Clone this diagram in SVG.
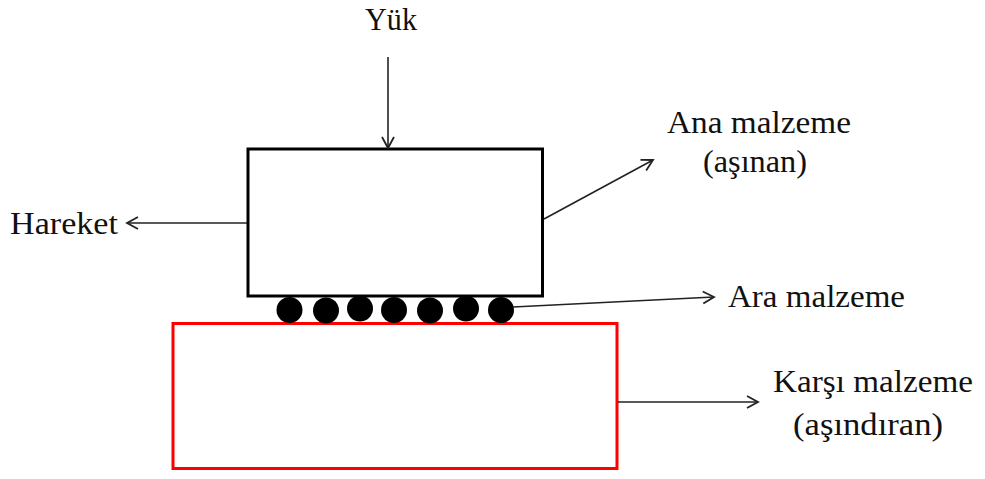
<svg xmlns="http://www.w3.org/2000/svg" width="985" height="479" viewBox="0 0 985 479">
<style>
text{font-family:"Liberation Serif","Times New Roman",serif;font-size:31px;fill:#111}
.con{stroke:#222;stroke-width:1.6;fill:none}
</style>
<defs>
<marker id="arr" markerUnits="userSpaceOnUse" markerWidth="16" markerHeight="16" viewBox="0 0 16 16" refX="14" refY="8" orient="auto">
<path d="M3,2 L14,8 L3,14" fill="none" stroke="#222" stroke-width="1.8"/>
</marker>
</defs>
<rect width="985" height="479" fill="#fff"/>
<g id="ana-malzeme">
<rect x="248" y="149" width="294.5" height="147" fill="#fff" stroke="#000" stroke-width="3"/>
</g>
<g id="karsi-malzeme">
<rect x="173" y="323.5" width="444" height="145" fill="#fff" stroke="#f00" stroke-width="3"/>
</g>
<g id="ara-malzeme" fill="#000">
<circle cx="289.5" cy="310" r="13"/>
<circle cx="326" cy="310.5" r="13"/>
<circle cx="360" cy="308.5" r="13"/>
<circle cx="394" cy="310" r="13"/>
<circle cx="430" cy="310.5" r="13"/>
<circle cx="466" cy="308.5" r="13"/>
<circle cx="501" cy="310" r="13"/>
</g>
<g id="connectors">
<line class="con" x1="388" y1="57" x2="388" y2="148" marker-end="url(#arr)"/>
<line class="con" x1="247" y1="223" x2="127" y2="223" marker-end="url(#arr)"/>
<line class="con" x1="544" y1="219" x2="653" y2="160" marker-end="url(#arr)"/>
<line class="con" x1="513" y1="307" x2="714" y2="297" marker-end="url(#arr)"/>
<line class="con" x1="618" y1="402" x2="758" y2="402" marker-end="url(#arr)"/>
</g>
<g id="labels">
<text x="365" y="30" textLength="52" lengthAdjust="spacingAndGlyphs">Yük</text>
<text x="10" y="234" textLength="108" lengthAdjust="spacingAndGlyphs">Hareket</text>
<text x="667" y="133" textLength="184" lengthAdjust="spacingAndGlyphs">Ana malzeme</text>
<text x="703" y="172" textLength="104" lengthAdjust="spacingAndGlyphs">(aşınan)</text>
<text x="728" y="307" textLength="177" lengthAdjust="spacingAndGlyphs">Ara malzeme</text>
<text x="773" y="392" textLength="200" lengthAdjust="spacingAndGlyphs">Karşı malzeme</text>
<text x="793" y="435" textLength="150" lengthAdjust="spacingAndGlyphs">(aşındıran)</text>
</g>
</svg>
